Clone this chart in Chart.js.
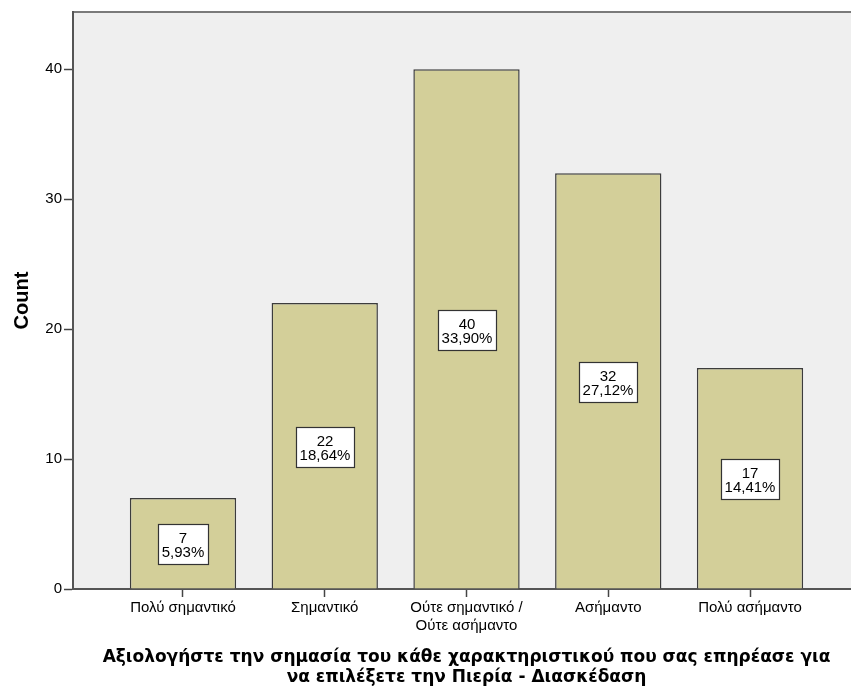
<!DOCTYPE html>
<html>
<head>
<meta charset="utf-8">
<script src="https://cdn.jsdelivr.net/npm/chart.js@4.4.1/dist/chart.umd.min.js"></script>
<style>
  html, body { margin: 0; padding: 0; background: #fff; overflow: hidden; width: 851px; height: 688px; }
  #wrap { width: 880px; height: 688px; }
</style>
</head>
<body>
<div id="wrap"><canvas id="chart" width="880" height="688"></canvas></div>
<script>
// data
const categories = [["Πολύ σημαντικό"], ["Σημαντικό"], ["Ούτε σημαντικό /", "Ούτε ασήμαντο"], ["Ασήμαντο"], ["Πολύ ασήμαντο"]];
const counts = [7, 22, 40, 32, 17];
const percents = ["5,93%", "18,64%", "33,90%", "27,12%", "14,41%"];
const yTicks = [0, 10, 20, 30, 40];
const xTitle = ["Αξιολογήστε την σημασία του κάθε χαρακτηριστικού που σας επηρέασε για", "να επιλέξετε την Πιερία - Διασκέδαση"];
const yTitle = "Count";

const labelFont = "Liberation Sans, Arial, sans-serif";
const titleFont = "DejaVu Sans, Verdana, sans-serif";

// grey plot background + top frame line
const plotBg = {
  id: "plotBg",
  beforeDraw(chart) {
    const { ctx, chartArea: a } = chart;
    ctx.save();
    ctx.fillStyle = "#efefef";
    ctx.fillRect(a.left, a.top, a.right - a.left, a.bottom - a.top);
    ctx.strokeStyle = "#7a7a7a";
    ctx.lineWidth = 2;
    ctx.beginPath();
    ctx.moveTo(a.left, a.top);
    ctx.lineTo(a.right, a.top);
    ctx.stroke();
    ctx.restore();
  }
};

// white boxes with count and percent in the middle of each bar
const barLabels = {
  id: "barLabels",
  afterDatasetsDraw(chart) {
    const { ctx } = chart;
    const meta = chart.getDatasetMeta(0);
    ctx.save();
    ctx.font = "15px " + labelFont;
    ctx.textAlign = "center";
    ctx.textBaseline = "alphabetic";
    meta.data.forEach((bar, i) => {
      const l1 = String(counts[i]);
      const l2 = percents[i];
      const w = Math.round(Math.max(ctx.measureText(l1).width, ctx.measureText(l2).width) + 7);
      const h = 40;
      const cx = Math.round(bar.x);
      const cy = Math.round((bar.y + bar.base) / 2) + 1;
      const x0 = Math.round(cx - w / 2) + 0.5;
      const y0 = Math.round(cy - h / 2) + 0.5;
      ctx.fillStyle = "#fff";
      ctx.fillRect(x0, y0, w, h);
      ctx.strokeStyle = "#333";
      ctx.lineWidth = 1.2;
      ctx.strokeRect(x0, y0, w, h);
      ctx.fillStyle = "#000";
      ctx.fillText(l1, cx, cy - 1);
      ctx.fillText(l2, cx, cy + 13);
    });
    ctx.restore();
  }
};

new Chart(document.getElementById("chart"), {
  type: "bar",
  data: {
    datasets: [{
      data: counts.map((v, i) => ({ x: i, y: v })),
      backgroundColor: "#d3cf99",
      borderColor: "#3c3c3c",
      borderWidth: 1.5,
      categoryPercentage: 1,
      barPercentage: 0.75
    }]
  },
  options: {
    responsive: false,
    animation: false,
    layout: { padding: { top: 12, right: 20, left: 0, bottom: 0 } },
    plugins: { legend: { display: false }, tooltip: { enabled: false } },
    scales: {
      x: {
        type: "linear",
        offset: false,
        min: -0.776,
        max: 4.776,
        afterBuildTicks(scale) { scale.ticks = categories.map((c, i) => ({ value: i })); },
        afterFit(scale) { scale.height = 99; },
        ticks: {
          autoSkip: false,
          maxRotation: 0,
          padding: 2,
          color: "#000",
          font: { family: labelFont, size: 15, lineHeight: 1.2 },
          callback: (v) => categories[v]
        },
        grid: { offset: false, drawOnChartArea: false, drawTicks: true, tickLength: 8, tickColor: "#444", tickWidth: 1.5 },
        border: { color: "#555", width: 2 },
        title: {
          display: true,
          text: xTitle,
          color: "#000",
          font: { family: titleFont, size: 17, weight: "bold", lineHeight: 1.2 },
          padding: { top: 0, bottom: 0 }
        }
      },
      y: {
        min: 0,
        max: 44.4,
        afterBuildTicks(scale) { scale.ticks = yTicks.map(v => ({ value: v })); },
        afterFit(scale) { scale.width = 73; },
        ticks: { padding: 2, color: "#000", font: { family: labelFont, size: 15 } },
        grid: { drawOnChartArea: false, drawTicks: true, tickLength: 9, tickColor: "#444", tickWidth: 1.5 },
        border: { color: "#555", width: 2 },
        title: {
          display: true,
          text: yTitle,
          color: "#000",
          font: { family: labelFont, size: 20, weight: "bold" },
          padding: { top: 10, bottom: 0 }
        }
      }
    }
  },
  plugins: [plotBg, barLabels]
});
</script>
</body>
</html>
